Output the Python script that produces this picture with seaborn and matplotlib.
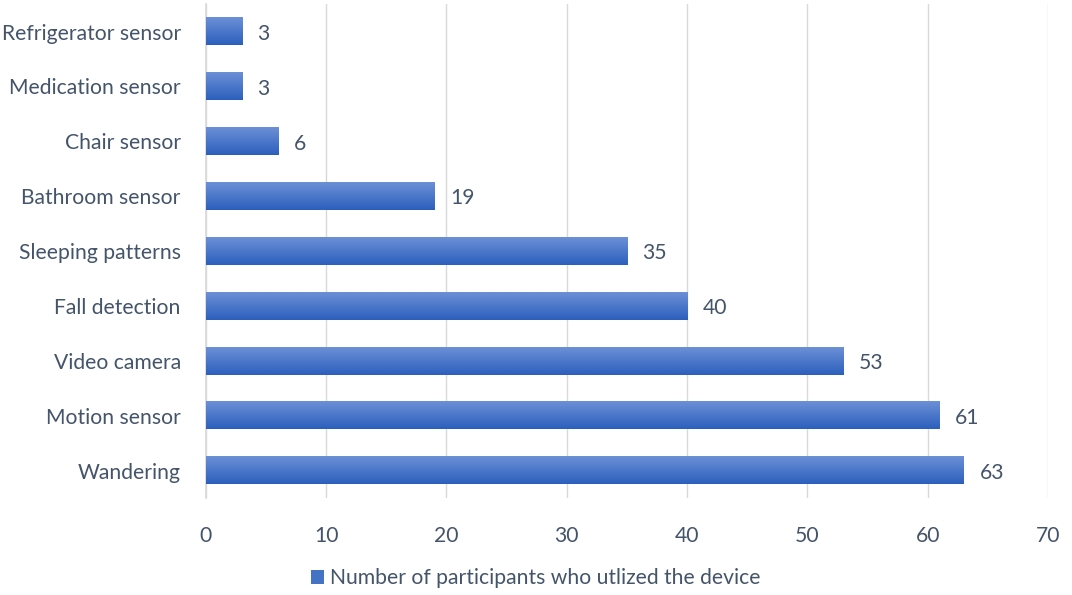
import matplotlib
matplotlib.use("Agg")
import matplotlib.pyplot as plt
import seaborn as sns
import numpy as np
import pandas as pd
from matplotlib.colors import LinearSegmentedColormap
from matplotlib.patches import Patch

categories = ["Refrigerator sensor", "Medication sensor", "Chair sensor", "Bathroom sensor",
              "Sleeping patterns", "Fall detection", "Video camera", "Motion sensor", "Wandering"]
values = [3, 3, 6, 19, 35, 40, 53, 61, 63]
series_name = "Number of participants who utlized the device"
xticks = [0, 10, 20, 30, 40, 50, 60, 70]

sns.set_theme(style="white")
plt.rcParams['font.family'] = ['Lato', 'DejaVu Sans']
txt = "#44546A"
fs = 15.2

df = pd.DataFrame({"cat": categories, "val": values})
fig = plt.figure(figsize=(10.72, 5.95), dpi=100)
ax = fig.add_axes([0.192, 0.163, 0.7856, 0.830])
sns.barplot(data=df, y="cat", x="val", orient="h", color="#4472C4", width=0.5, ax=ax, zorder=3)

cmap = LinearSegmentedColormap.from_list("g", ["#6C90D6", "#2C5FBD"])
grad = np.linspace(0, 1, 64).reshape(-1, 1)
for p in ax.patches:
    x0, y0 = p.get_x(), p.get_y()
    w, h = p.get_width(), p.get_height()
    p.set_alpha(0)
    ax.imshow(grad, cmap=cmap, aspect="auto", extent=[x0, x0 + w, y0 + h, y0],
              zorder=3, interpolation="bilinear")
    ax.text(x0 + w + 1.3, y0 + h / 2 + 0.04, f"{int(w)}", va="center", ha="left",
            fontsize=fs, color=txt)

ax.set_xlim(0, 70)
ax.set_ylim(len(categories) - 0.5, -0.5)
ax.set_xticks(xticks)
ax.set_xticklabels([str(t) for t in xticks], fontsize=fs, color=txt)
ax.tick_params(axis="y", labelsize=fs, labelcolor=txt, pad=18, length=0)
ax.tick_params(axis="x", pad=20, length=0)
ax.set_xlabel("")
ax.set_ylabel("")
ax.grid(axis="x", color="#D9D9D9", linewidth=1, zorder=0)
for s in ["top", "right", "bottom"]:
    ax.spines[s].set_visible(False)
ax.spines["left"].set_color("#D9D9D9")
ax.spines["left"].set_zorder(1)

handle = Patch(facecolor="#4472C4", edgecolor="none")
fig.legend([handle], [series_name], loc="center", bbox_to_anchor=(0.5, 0.028),
           frameon=False, fontsize=fs, labelcolor=txt, handlelength=0.6, handleheight=0.6,
           handletextpad=0.3)

fig.savefig("out.png", dpi=100)
